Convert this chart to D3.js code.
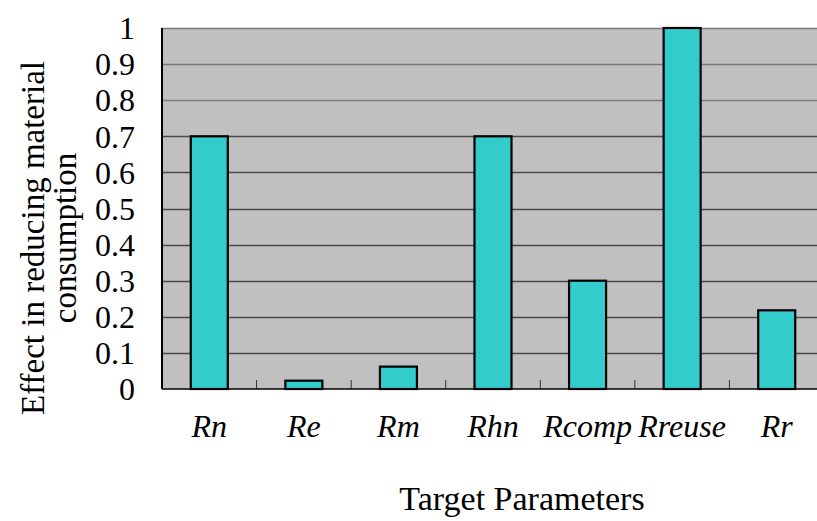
<!DOCTYPE html>
<html>
<head>
<meta charset="utf-8">
<script src="https://cdn.jsdelivr.net/npm/d3@7"></script>
<style>
  body { margin: 0; background: #fff; }
  svg { display: block; }
  text { font-family: "Liberation Serif", "Times New Roman", serif; fill: #000; }
</style>
</head>
<body>
<div id="chart"></div>
<script>
// data
var categories = ['Rn', 'Re', 'Rm', 'Rhn', 'Rcomp', 'Rreuse', 'Rr'];
var effect = [0.70, 0.023, 0.062, 0.70, 0.30, 1.00, 0.218];
var yTicks = [0, 0.1, 0.2, 0.3, 0.4, 0.5, 0.6, 0.7, 0.8, 0.9, 1];

var width = 817, height = 521;
var plot = { left: 162, top: 28, right: 824, bottom: 389 };

var svg = d3.select('#chart').append('svg')
  .attr('width', width)
  .attr('height', height);

var x = d3.scaleBand()
  .domain(categories)
  .range([plot.left, plot.right])
  .paddingInner(0)
  .paddingOuter(0);

var y = d3.scaleLinear()
  .domain([0, 1])
  .range([plot.bottom, plot.top]);

// plot background
svg.append('rect')
  .attr('x', plot.left)
  .attr('y', plot.top)
  .attr('width', plot.right - plot.left)
  .attr('height', plot.bottom - plot.top)
  .style('fill', '#c0c0c0');

// gridlines
svg.append('g')
  .selectAll('line')
  .data(yTicks.filter(function (d) { return d > 0; }))
  .enter().append('line')
  .attr('x1', plot.left)
  .attr('x2', plot.right)
  .attr('y1', function (d) { return Math.round(y(d)) + 0.5; })
  .attr('y2', function (d) { return Math.round(y(d)) + 0.5; })
  .style('stroke', function (d) { return d >= 0.8 ? '#7a7a7a' : '#4a4a4a'; })
  .style('stroke-width', 1.3);

// category ticks on x axis
svg.append('g')
  .selectAll('line')
  .data(categories.slice(1))
  .enter().append('line')
  .attr('x1', function (d) { return x(d); })
  .attr('x2', function (d) { return x(d); })
  .attr('y1', plot.bottom)
  .attr('y2', plot.bottom - 9)
  .style('stroke', '#333')
  .style('stroke-width', 1);

// bars
var barW = 37;
svg.append('g')
  .selectAll('rect')
  .data(effect)
  .enter().append('rect')
  .attr('x', function (d, i) { return x(categories[i]) + x.bandwidth() / 2 - barW / 2; })
  .attr('y', function (d) { return y(d); })
  .attr('width', barW)
  .attr('height', function (d) { return y(0) - y(d); })
  .style('fill', '#33cccc')
  .style('stroke', '#000')
  .style('stroke-width', 2.2);

// axes lines
svg.append('line')
  .attr('x1', plot.left).attr('x2', plot.left)
  .attr('y1', plot.top).attr('y2', plot.bottom)
  .style('stroke', '#000').style('stroke-width', 2);
svg.append('line')
  .attr('x1', plot.left).attr('x2', plot.right)
  .attr('y1', plot.bottom).attr('y2', plot.bottom)
  .style('stroke', '#000').style('stroke-width', 1.5);

// y tick labels
svg.append('g')
  .selectAll('text')
  .data(yTicks)
  .enter().append('text')
  .attr('x', 135)
  .attr('y', function (d) { return y(d); })
  .attr('dy', '0.35em')
  .attr('text-anchor', 'end')
  .style('font-size', '32px')
  .text(function (d) { return d === 0 || d === 1 ? String(d) : d.toFixed(1); });

// x tick labels
svg.append('g')
  .selectAll('text')
  .data(categories)
  .enter().append('text')
  .attr('x', function (d) { return x(d) + x.bandwidth() / 2; })
  .attr('y', 437)
  .attr('text-anchor', 'middle')
  .style('font-size', '32px')
  .style('font-style', 'italic')
  .text(function (d) { return d; });

// axis titles
svg.append('text')
  .attr('x', 522)
  .attr('y', 510)
  .attr('text-anchor', 'middle')
  .style('font-size', '34px')
  .text('Target Parameters');

var yTitle = svg.append('text')
  .attr('transform', 'translate(0,238) rotate(-90)')
  .attr('text-anchor', 'middle')
  .style('font-size', '33px');
yTitle.append('tspan').attr('x', 0).attr('y', 44).text('Effect in reducing material');
yTitle.append('tspan').attr('x', 0).attr('y', 76).text('consumption');
</script>
</body>
</html>
